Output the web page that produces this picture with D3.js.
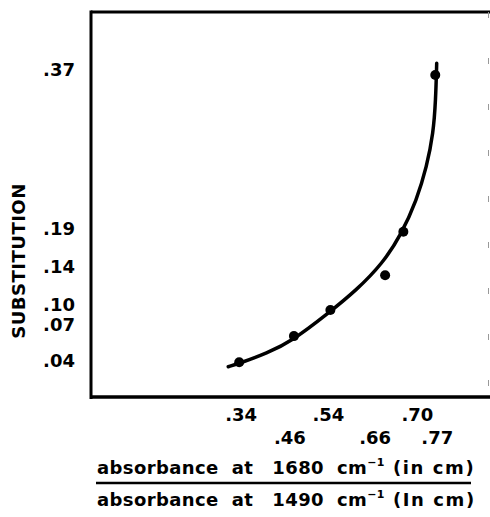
<!DOCTYPE html>
<html>
<head>
<meta charset="utf-8">
<script src="https://cdn.jsdelivr.net/npm/d3@7"></script>
<style>
  html, body { margin: 0; padding: 0; background: #fff; }
  svg { display: block; }
  text { font-family: "DejaVu Sans", sans-serif; font-weight: bold; fill: #000; }
</style>
</head>
<body>
<svg id="chart" width="490" height="517"></svg>
<script>
// ---- data ----
const absorbanceRatio = [0.34, 0.46, 0.54, 0.66, 0.70, 0.77];
const substitution    = [0.04, 0.07, 0.10, 0.14, 0.19, 0.37];

// smooth fitted curve as drawn in the figure (traced)
const fitRatio = [0.316, 0.3402, 0.4003, 0.4573, 0.5354, 0.5977, 0.6547, 0.6948, 0.7293, 0.7512, 0.7657, 0.7709, 0.7731];
const fitSubst = [0.0348, 0.0387, 0.0502, 0.0648, 0.0963, 0.1230, 0.1537, 0.1862, 0.2264, 0.2647, 0.3031, 0.3414, 0.3835];

const xTickLabels = [".34", ".46", ".54", ".66", ".70", ".77"];
const yTickLabels = [".04", ".07", ".10", ".14", ".19", ".37"];

const yTitle = "SUBSTITUTION";

// ---- layout ----
const svg = d3.select("#chart");
const plot = { left: 91, right: 490, top: 12, bottom: 397 };

const x = d3.scaleLinear().domain([0.015, 0.89]).range([plot.left, plot.right]);
const y = d3.scaleLinear().domain([0, 0.4425]).range([plot.bottom, plot.top]);

// frame (left, top, bottom; right edge faint / cut off)
svg.append("line").attr("x1", plot.left).attr("x2", plot.left).attr("y1", plot.top - 1.5).attr("y2", plot.bottom + 2)
  .attr("stroke", "#000").attr("stroke-width", 3);
svg.append("line").attr("x1", plot.left).attr("x2", plot.right).attr("y1", plot.top).attr("y2", plot.top)
  .attr("stroke", "#000").attr("stroke-width", 3);
svg.append("line").attr("x1", plot.left).attr("x2", plot.right).attr("y1", plot.bottom).attr("y2", plot.bottom)
  .attr("stroke", "#000").attr("stroke-width", 3.5);
svg.append("line").attr("x1", plot.right - 1.5).attr("x2", plot.right - 1.5).attr("y1", plot.top).attr("y2", plot.bottom)
  .attr("stroke", "#999").attr("stroke-width", 1).attr("stroke-dasharray", "6,40");

// fitted curve
const fit = fitRatio.map((v, i) => [v, fitSubst[i]]);
svg.append("path")
  .datum(fit)
  .attr("fill", "none")
  .attr("stroke", "#000")
  .attr("stroke-width", 3.5)
  .attr("stroke-linecap", "round")
  .attr("d", d3.line().x(d => x(d[0])).y(d => y(d[1])).curve(d3.curveBasis));

// data points
svg.selectAll("circle.pt")
  .data(absorbanceRatio.map((v, i) => [v, substitution[i]]))
  .enter().append("circle")
  .attr("class", "pt")
  .attr("cx", d => x(d[0]))
  .attr("cy", d => y(d[1]))
  .attr("r", 5)
  .attr("fill", "#000");

// y tick labels (placed beside their values, nudged as in the original)
const yNudge = { ".04": -2, ".07": -12, ".10": -5, ".14": -9, ".19": -3, ".37": -6 };
svg.selectAll("text.ytick")
  .data(substitution)
  .enter().append("text")
  .attr("class", "ytick")
  .attr("x", 75)
  .attr("y", (d, i) => y(d) + yNudge[yTickLabels[i]])
  .attr("dy", "0.36em")
  .attr("text-anchor", "end")
  .attr("font-size", 18)
  .text((d, i) => yTickLabels[i]);

// x tick labels (staggered in two rows)
const xNudge = { ".34": 2, ".46": -4, ".54": -2, ".66": -10, ".70": 14, ".77": 2 };
svg.selectAll("text.xtick")
  .data(absorbanceRatio)
  .enter().append("text")
  .attr("class", "xtick")
  .attr("x", (d, i) => x(d) + xNudge[xTickLabels[i]])
  .attr("y", (d, i) => i % 2 === 0 ? 415 : 438)
  .attr("dy", "0.36em")
  .attr("text-anchor", "middle")
  .attr("font-size", 18)
  .text((d, i) => xTickLabels[i]);

// y axis title
svg.append("text")
  .attr("transform", "translate(19,261) rotate(-90)")
  .attr("text-anchor", "middle")
  .attr("dy", "0.36em")
  .attr("font-size", 18)
  .attr("letter-spacing", 0.5)
  .text(yTitle);

// x axis title as a fraction
function fractionRow(yPos, num, inText) {
  const t = svg.append("text")
    .attr("x", 97).attr("y", yPos).attr("dy", "0.36em")
    .attr("font-size", 18)
    .attr("letter-spacing", 0.4);
  t.append("tspan").text("absorbance");
  t.append("tspan").attr("dx", 13).text("at");
  t.append("tspan").attr("dx", 19).text(num);
  t.append("tspan").attr("dx", 13).text("cm");
  t.append("tspan").attr("font-size", 11).attr("dy", -8).text("\u2212");
  t.append("tspan").attr("font-size", 11).text("1");
  t.append("tspan").attr("dy", 8).attr("dx", 8).attr("letter-spacing", 1.6).text(inText);
  return t;
}
fractionRow(468, "1680", "(in cm)");
svg.append("line").attr("x1", 96).attr("x2", 471).attr("y1", 483).attr("y2", 483)
  .attr("stroke", "#000").attr("stroke-width", 2.5);
fractionRow(500, "1490", "(In cm)");
</script>
</body>
</html>
